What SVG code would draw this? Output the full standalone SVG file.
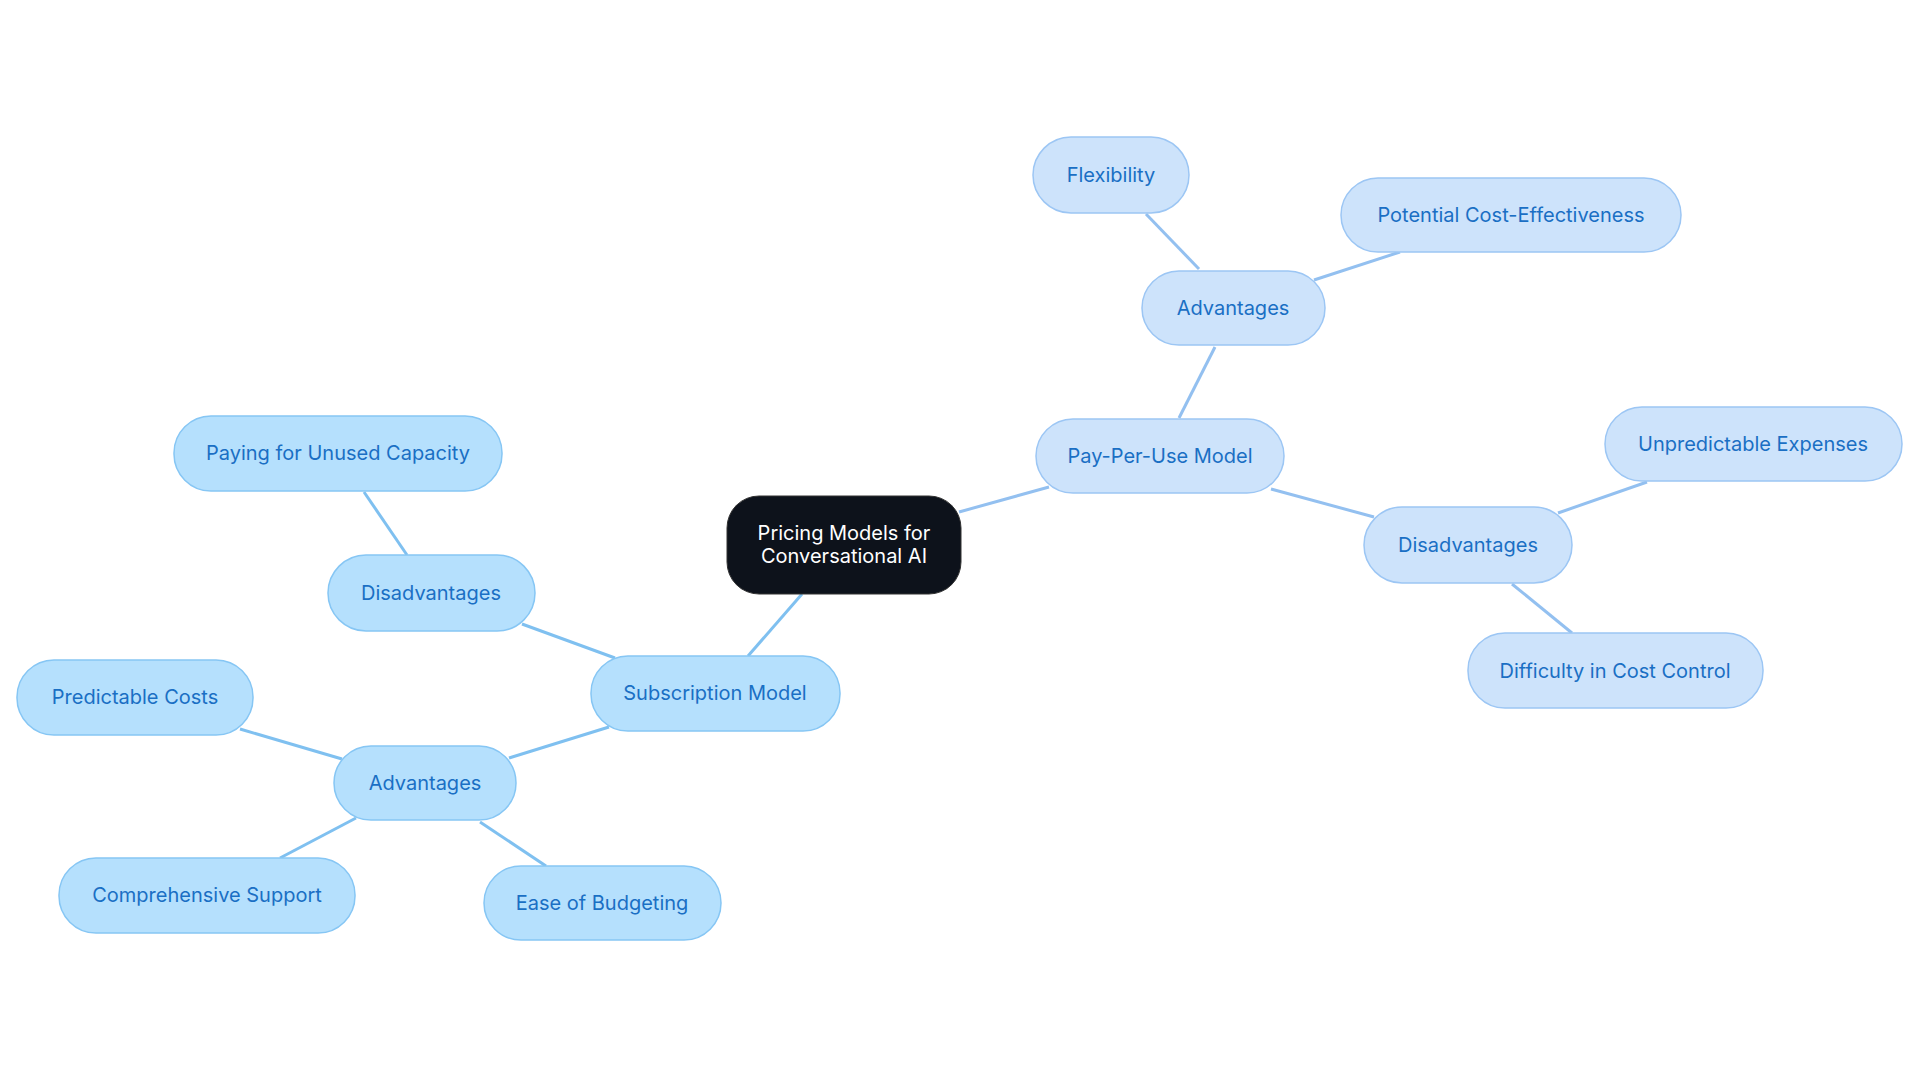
<svg xmlns="http://www.w3.org/2000/svg" width="1920" height="1083" viewBox="0 0 1920 1083">
<style>
text{font-family:Inter,"Noto Sans",sans-serif;font-size:20px;text-anchor:middle;dominant-baseline:central}
.s rect{fill:#b5e0fd;stroke:#86c6f4;stroke-width:1.5}
.p rect{fill:#cde3fb;stroke:#9cc6f4;stroke-width:1.5}
.s text,.p text{fill:#1a6fc4}
.es{stroke:#7fc0f0;stroke-width:3;fill:none}
.ep{stroke:#93c0f0;stroke-width:3;fill:none}
</style>
<rect width="1920" height="1083" fill="#fff"/>
<g id="connectors">
<line class="ep" x1="959" y1="512" x2="1049" y2="487"/>
<line class="ep" x1="1179" y1="418" x2="1215" y2="347"/>
<line class="ep" x1="1199" y1="269" x2="1146" y2="214"/>
<line class="ep" x1="1314" y1="280" x2="1400" y2="252"/>
<line class="ep" x1="1271" y1="489" x2="1374" y2="517"/>
<line class="ep" x1="1558" y1="513" x2="1647" y2="482"/>
<line class="ep" x1="1512" y1="584" x2="1572" y2="633"/>
<line class="es" x1="802" y1="594" x2="748" y2="656"/>
<line class="es" x1="615" y1="658" x2="522" y2="624"/>
<line class="es" x1="407" y1="555" x2="364" y2="492"/>
<line class="es" x1="609" y1="727" x2="509" y2="758"/>
<line class="es" x1="342" y1="759" x2="240" y2="729"/>
<line class="es" x1="356" y1="818" x2="280" y2="858"/>
<line class="es" x1="480" y1="822" x2="546" y2="866"/>
</g>
<g id="central"><rect x="727" y="496" width="234" height="98" rx="32" fill="#0d121b" stroke="#333" stroke-width="1"/><text x="844" y="533" fill="#fff">Pricing Models for</text><text x="844" y="556" fill="#fff">Conversational AI</text></g>
<g id="ppu" class="p"><rect x="1036" y="419" width="248" height="74" rx="37"/><text x="1160" y="456">Pay-Per-Use Model</text></g>
<g id="advR" class="p"><rect x="1142" y="271" width="183" height="74" rx="37"/><text x="1233" y="308">Advantages</text></g>
<g id="flex" class="p"><rect x="1033" y="137" width="156" height="76" rx="38"/><text x="1111" y="175">Flexibility</text></g>
<g id="pce" class="p"><rect x="1341" y="178" width="340" height="74" rx="37"/><text x="1511" y="215">Potential Cost-Effectiveness</text></g>
<g id="disR" class="p"><rect x="1364" y="507" width="208" height="76" rx="38"/><text x="1468" y="545">Disadvantages</text></g>
<g id="ue" class="p"><rect x="1605" y="407" width="297" height="74" rx="37"/><text x="1753" y="444">Unpredictable Expenses</text></g>
<g id="dcc" class="p"><rect x="1468" y="633" width="295" height="75" rx="37"/><text x="1615" y="671">Difficulty in Cost Control</text></g>
<g id="sub" class="s"><rect x="591" y="656" width="249" height="75" rx="37"/><text x="715" y="693">Subscription Model</text></g>
<g id="disL" class="s"><rect x="328" y="555" width="207" height="76" rx="38"/><text x="431" y="593">Disadvantages</text></g>
<g id="puc" class="s"><rect x="174" y="416" width="328" height="75" rx="37"/><text x="338" y="453">Paying for Unused Capacity</text></g>
<g id="advL" class="s"><rect x="334" y="746" width="182" height="74" rx="37"/><text x="425" y="783">Advantages</text></g>
<g id="pc" class="s"><rect x="17" y="660" width="236" height="75" rx="37"/><text x="135" y="697">Predictable Costs</text></g>
<g id="cs" class="s"><rect x="59" y="858" width="296" height="75" rx="37"/><text x="207" y="895">Comprehensive Support</text></g>
<g id="eb" class="s"><rect x="484" y="866" width="237" height="74" rx="37"/><text x="602" y="903">Ease of Budgeting</text></g>
</svg>
